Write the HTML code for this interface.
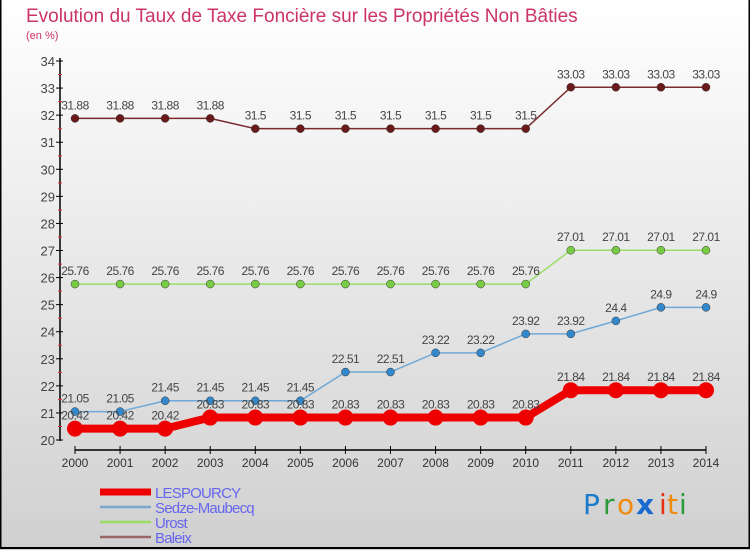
<!DOCTYPE html>
<html><head><meta charset="utf-8"><style>
body{margin:0;width:750px;height:550px;overflow:hidden;font-family:"Liberation Sans",sans-serif}
svg{display:block}
</style></head><body>
<svg id="c" width="750" height="550" xmlns="http://www.w3.org/2000/svg">
<defs><linearGradient id="bg" x1="0" y1="0" x2="0" y2="1"><stop offset="0" stop-color="#ffffff"/><stop offset="1" stop-color="#d0d0d0"/></linearGradient></defs>
<rect x="0" y="0" width="750" height="550" fill="url(#bg)"/>
<rect x="0.5" y="-1" width="749" height="549" fill="none" stroke="#000" stroke-width="2"/>
<text x="26" y="22" font-size="19" fill="#cc3366">Evolution du Taux de Taxe Foncière sur les Propriétés Non Bâties</text>
<text x="26" y="39" font-size="11" fill="#cc3366">(en %)</text>
<g id="axes"></g>
<g id="series"></g>
<g id="legend"></g>
<g font-size="28" font-family="'DejaVu Sans',sans-serif">
<text x="583" y="514" fill="#1a7acc">P</text><text x="603" y="514" fill="#2a9a3a">r</text><text x="617" y="514" fill="#f08a10">o</text><text x="636" y="514" fill="#1a6ad0" font-weight="bold">x</text><text x="659" y="514" fill="#e83010">i</text><text x="667" y="514" fill="#f08a10">t</text><text x="679" y="514" fill="#2a9a3a">i</text>
</g>
</svg>
<script>
const years=[2000,2001,2002,2003,2004,2005,2006,2007,2008,2009,2010,2011,2012,2013,2014];
const yTicks=[20,21,22,23,24,25,26,27,28,29,30,31,32,33,34];
const lespourcy=[20.42,20.42,20.42,20.83,20.83,20.83,20.83,20.83,20.83,20.83,20.83,21.84,21.84,21.84,21.84];
const sedze=[21.05,21.05,21.45,21.45,21.45,21.45,22.51,22.51,23.22,23.22,23.92,23.92,24.4,24.9,24.9];
const urost=[25.76,25.76,25.76,25.76,25.76,25.76,25.76,25.76,25.76,25.76,25.76,27.01,27.01,27.01,27.01];
const baleix=[31.88,31.88,31.88,31.88,31.5,31.5,31.5,31.5,31.5,31.5,31.5,33.03,33.03,33.03,33.03];
const seriesNames=["LESPOURCY","Sedze-Maubecq","Urost","Baleix"];
const NS="http://www.w3.org/2000/svg";
const xs=i=>75+i*(706-75)/(years.length-1);
const ys=v=>440-(v-20)*(440-61)/14;
function mk(tag,attrs,parent){const e=document.createElementNS(NS,tag);for(const k in attrs)e.setAttribute(k,attrs[k]);parent.appendChild(e);return e;}
const ax=document.getElementById('axes');
let yl=mk('line',{x1:60,y1:58,x2:60,y2:441,stroke:'#000','stroke-width':1.5},ax);


yTicks.forEach(t=>{
 const y=ys(t);
 mk('line',{x1:56,y1:y,x2:63,y2:y,stroke:'#000'},ax);
 if(t<34)mk('line',{x1:58,y1:y-13.5,x2:62,y2:y-13.5,stroke:'#e03040'},ax);
 const tx=mk('text',{x:55,y:y+5,'text-anchor':'end','font-size':13,fill:'#444'},ax);
 tx.textContent=t;
 
 
});
let xl=mk('line',{x1:75,y1:450,x2:706,y2:450,stroke:'#000','stroke-width':1.5},ax);


years.forEach((yr,i)=>{
 const x=xs(i);
 mk('line',{x1:x,y1:446,x2:x,y2:454,stroke:'#000'},ax);
 const tx=mk('text',{x:x,y:467,'text-anchor':'middle','font-size':12,fill:'#333'},ax);
 tx.textContent=yr;
 
 
});
const sg=document.getElementById('series');
const defs=[[baleix,'#7a2a2a','#6a1a1a',1.5,4,'baleix'],[urost,'#99dd66','#77cc44',1.5,4,'urost'],[sedze,'#6fa8d6','#3388cc',1.5,4,'sedze-maubecq'],[lespourcy,'#ee0000','#ee0000',8,8,'lespourcy']];
defs.forEach(([d,lc,pc,w,r,nm])=>{
 const g=mk('g',{},sg);
 
 
 const p=mk('polyline',{points:d.map((v,i)=>xs(i)+','+ys(v)).join(' '),fill:'none',stroke:lc,'stroke-width':w},g);
 
 
 d.forEach((v,i)=>{
  const c=mk('circle',{cx:xs(i),cy:ys(v),r:r,fill:pc,stroke:nm==='lespourcy'?'none':'#333','stroke-width':0.5},g);
  
  
  const t=mk('text',{x:xs(i),y:ys(v)-9,'text-anchor':'middle','font-size':12,fill:'#444','letter-spacing':'-0.5'},g);
  t.textContent=v;
  
  
 });
});
const lg=document.getElementById('legend');
const lcols=['#ee0000','#7aa8d0','#99dd66','#996666'];
const lw=[7,2.5,2.5,2.5];
seriesNames.forEach((n,i)=>{
 const y=492+i*15;
 const l=mk('line',{x1:100,y1:y,x2:151,y2:y,stroke:lcols[i],'stroke-width':lw[i]},lg);
 
 
 const t=mk('text',{x:155,y:y+6,'font-size':15,fill:'#6666ee','letter-spacing':'-0.8'},lg);
 t.textContent=n;
 
 
});
</script>
</body></html>
